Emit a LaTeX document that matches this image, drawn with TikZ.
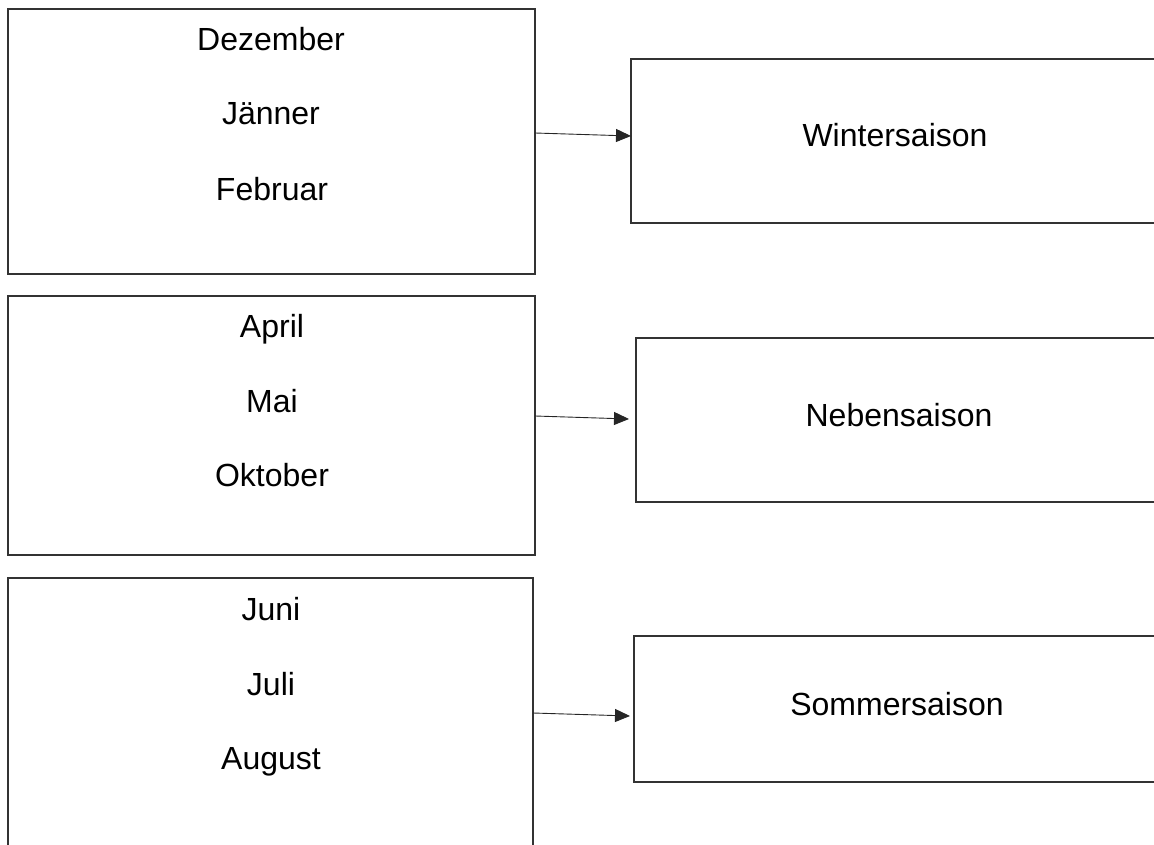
\documentclass[tikz,border=0pt]{standalone}
\usepackage{fontspec}
\setmainfont{Liberation Sans}
\usetikzlibrary{arrows.meta}

\tikzset{
	monthbox/.style={draw=black!80, line width=1.4pt, minimum width=527pt, inner sep=0pt, outer sep=0pt},
	seasonbox/.style={draw=black!80, line width=1.4pt, minimum width=569pt, inner sep=0pt, outer sep=0pt},
	monthtext/.style={anchor=base, inner sep=0pt},
	seasonarrow/.style={-{Triangle[length=15pt, width=13pt]}, line width=0.9pt, black!85}
}

\begin{document}
\begin{tikzpicture}[x=1pt, y=-1pt, font=\fontsize{32}{38}\selectfont]
	\useasboundingbox (0, 0) rectangle (1154, 845);
	\clip (0, 0) rectangle (1154, 845);

	% month boxes
	\node[monthbox, minimum height=265pt] (m1) at (271.5, 141.5) {};
	\node[monthbox, minimum height=259pt] (m2) at (271.5, 425.5) {};
	\node[monthbox, minimum height=322pt, minimum width=525pt] (m3) at (270.5, 739) {};

	\node[monthtext] (dez) at (271, 51) {Dezember};
	\node[monthtext] (jan) at (271, 125) {Jänner};
	\node[monthtext] (feb) at (272, 201) {Februar};

	\node[monthtext] (apr) at (272, 337) {April};
	\node[monthtext] (mai) at (272, 412) {Mai};
	\node[monthtext] (okt) at (272, 486) {Oktober};

	\node[monthtext] (jun) at (271, 620) {Juni};
	\node[monthtext] (jul) at (271, 695) {Juli};
	\node[monthtext] (aug) at (271, 769) {August};

	% season boxes
	\node[seasonbox, minimum height=164pt] (winter) at (915.5, 141) {};
	\node[seasonbox, minimum height=164pt] (neben) at (920.5, 420) {};
	\node[seasonbox, minimum height=146pt] (sommer) at (918.5, 709) {};

	\node[monthtext] (wtext) at (895, 147) {Wintersaison};
	\node[monthtext] (ntext) at (899, 426) {Nebensaison};
	\node[monthtext] (stext) at (897, 715) {Sommersaison};

	% arrows
	\coordinate (w-from) at (m1.east |- 0, 133);
	\coordinate (w-to) at (winter.west |- 0, 136);
	\coordinate (n-from) at (m2.east |- 0, 416);
	\coordinate (n-to) at (629, 419);
	\coordinate (s-from) at (m3.east |- 0, 713);
	\coordinate (s-to) at (630, 716);

	\draw[seasonarrow] (w-from) -- (w-to);
	\draw[seasonarrow] (n-from) -- (n-to);
	\draw[seasonarrow] (s-from) -- (s-to);

\end{tikzpicture}
\end{document}
